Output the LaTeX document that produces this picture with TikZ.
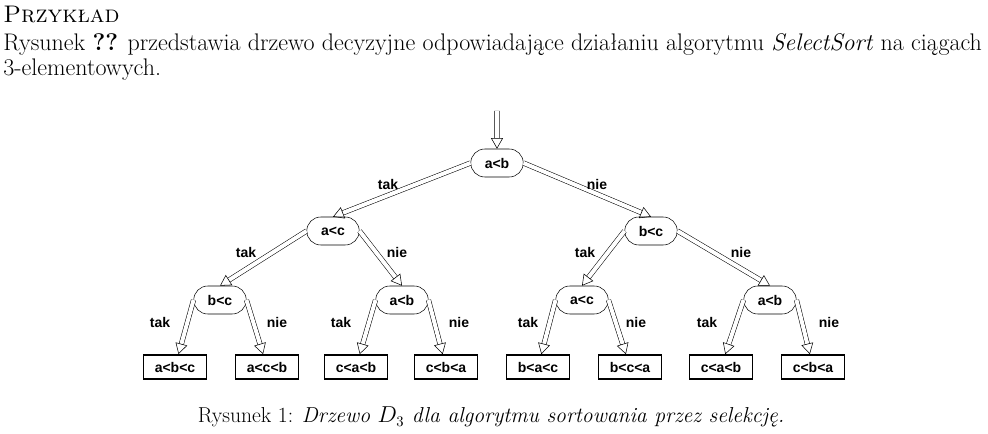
\documentclass[tikz,border=0pt]{standalone}
\usepackage{fontspec}
\newfontfamily\treefont{Liberation Sans}
\usetikzlibrary{arrows.meta, shapes.misc}

\begin{document}
\begin{tikzpicture}[
                x = 0.75pt, y = -0.75pt, % pixel units
                > = {Triangle[open, length=8pt, width=9pt]},
                semithick
        ]

        \tikzstyle{test}=[
            draw, rounded rectangle, thin,
            minimum width = 46pt, minimum height = 21pt,
            font = \treefont\bfseries\fontsize{10.5}{12}\selectfont
        ]
        \tikzstyle{leaf}=[
            draw, very thick, rectangle,
            minimum width = 47pt, minimum height = 18pt,
            font = \treefont\bfseries\fontsize{10.5}{12}\selectfont
        ]
        \tikzstyle{arr}=[
            ->, double, double distance = 3pt, thin
        ]
        \tikzstyle{lbl}=[font = \treefont\bfseries\fontsize{10.5}{12}\selectfont]

        \useasboundingbox (0,0) rectangle (988,434);

        % text above and below the tree
        \node[anchor=base west, inner sep=0, font=\fontsize{18}{22}\selectfont] (T1) at (3,23) {\textsc{Przykład}};
        \node[anchor=base west, inner sep=0, font=\fontsize{18}{22}\selectfont] (T2) at (3,51)
            {Rysunek \textbf{??} przedstawia drzewo decyzyjne odpowiadające działaniu algorytmu \textit{SelectSort} na ciągach};
        \node[anchor=base west, inner sep=0, font=\fontsize{18}{22}\selectfont] (T3) at (3,76) {3-elementowych.};
        \node[inner sep=0, font=\fontsize{16.2}{20}\selectfont] (CAP) at (491,417)
            {Rysunek 1: \textit{Drzewo $D_3$ dla algorytmu sortowania przez selekcję.}};

        % comparisons
        \coordinate (IN) at (497,111);
        \node[test] (AB) at (497,163) {a<b};
        \node[test] (AC) at (333,231) {a<c};
        \node[test] (BC) at (651,231) {b<c};
        \node[test] (BC2) at (220,300) {b<c};
        \node[test] (AB2) at (402,300) {a<b};
        \node[test] (AC3) at (582,300) {a<c};
        \node[test] (AB3) at (770,300) {a<b};

        % results
        \node[leaf] (L1) at (175,367) {a<b<c};
        \node[leaf] (L2) at (267,367) {a<c<b};
        \node[leaf] (L3) at (356,367) {c<a<b};
        \node[leaf] (L4) at (446,367) {c<b<a};
        \node[leaf] (L5) at (538,367) {b<a<c};
        \node[leaf] (L6) at (630,367) {b<c<a};
        \node[leaf] (L7) at (721,367) {c<a<b};
        \node[leaf] (L8) at (813,367) {c<b<a};

        \draw[arr] (IN) -- (AB);
        \draw[arr] (AB.west) -- (AC.north);
        \draw[arr] (AB.east) -- (BC.north);
        \draw[arr] (AC.west) -- (BC2.north);
        \draw[arr] (AC.east) -- (AB2.north);
        \draw[arr] (BC.west) -- (AC3.north);
        \draw[arr] (BC.east) -- (AB3.north);
        \draw[arr] (BC2.west) -- (L1);
        \draw[arr] (BC2.east) -- (L2);
        \draw[arr] (AB2.west) -- (L3);
        \draw[arr] (AB2.east) -- (L4);
        \draw[arr] (AC3.west) -- (L5);
        \draw[arr] (AC3.east) -- (L6);
        \draw[arr] (AB3.west) -- (L7);
        \draw[arr] (AB3.east) -- (L8);

        \node[lbl] (Y1) at (388,184) {tak};
        \node[lbl] (N1) at (597,184) {nie};
        \node[lbl] (Y2) at (246,252) {tak};
        \node[lbl] (N2) at (397,252) {nie};
        \node[lbl] (Y3) at (585,252) {tak};
        \node[lbl] (N3) at (741,252) {nie};
        \node[lbl] (Y4) at (160,322) {tak};
        \node[lbl] (N4) at (277,322) {nie};
        \node[lbl] (Y5) at (341,322) {tak};
        \node[lbl] (N5) at (459,322) {nie};
        \node[lbl] (Y6) at (528,322) {tak};
        \node[lbl] (N6) at (636,322) {nie};
        \node[lbl] (Y7) at (707,322) {tak};
        \node[lbl] (N7) at (829,322) {nie};

        \end{tikzpicture}
\end{document}
